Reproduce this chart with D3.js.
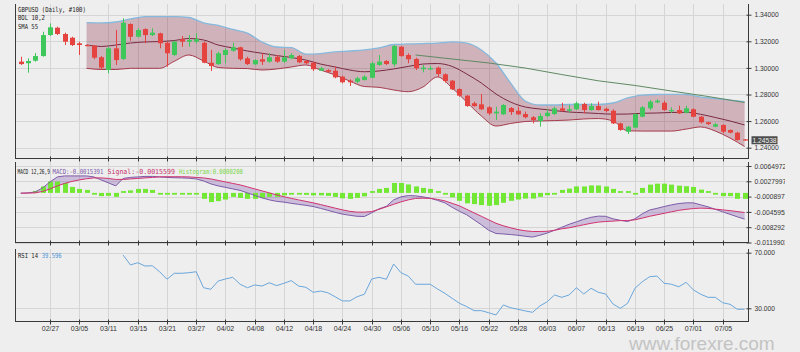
<!DOCTYPE html>
<html>
<head>
<meta charset="utf-8">
<script src="https://cdn.jsdelivr.net/npm/d3@7"></script>
<style>
  body { margin: 0; background: #eeeeee; }
  svg { display: block; }
</style>
</head>
<body>
<svg id="chart" width="800" height="352"></svg>
<script>
// GBPUSD daily, 100 bars, BOL(10,2) + SMA55, MACD(12,26,9), RSI(14)

const tickLabels = ["02/27", "03/05", "03/11", "03/15", "03/21", "03/27", "04/02", "04/08",
  "04/12", "04/18", "04/24", "04/30", "05/06", "05/10", "05/16", "05/22", "05/28", "06/03",
  "06/07", "06/13", "06/19", "06/25", "07/01", "07/05"];

const open = [
  1.3047, 1.3035, 1.3054, 1.3089, 1.3247, 1.3302, 1.3255, 1.3227, 1.3185, 1.3172,
  1.3167, 1.3080, 1.2984, 1.3147, 1.3067, 1.3330, 1.3234, 1.3292, 1.3247, 1.3260,
  1.3189, 1.3097, 1.3215, 1.3197, 1.3197, 1.3189, 1.3039, 1.3029, 1.3097, 1.3129,
  1.3155, 1.3072, 1.3027, 1.3065, 1.3047, 1.3084, 1.3047, 1.3072, 1.3089, 1.3052,
  1.3039, 1.2979, 1.2984, 1.2979, 1.2934, 1.2904, 1.2896, 1.2909, 1.2926, 1.3022,
  1.3052, 1.3027, 1.3159, 1.3097, 1.3067, 1.2990, 1.2990, 1.3002, 1.2952, 1.2904,
  1.2841, 1.2791, 1.2734, 1.2726, 1.2704, 1.2658, 1.2651, 1.2698, 1.2678, 1.2653,
  1.2629, 1.2601, 1.2638, 1.2653, 1.2696, 1.2678, 1.2689, 1.2728, 1.2683, 1.2713,
  1.2693, 1.2678, 1.2583, 1.2520, 1.2551, 1.2633, 1.2696, 1.2741, 1.2738, 1.2676,
  1.2683, 1.2663, 1.2689, 1.2633, 1.2591, 1.2558, 1.2571, 1.2533, 1.2513, 1.2463];
const high = [
  1.3084, 1.3072, 1.3112, 1.3272, 1.3335, 1.3310, 1.3265, 1.3234, 1.3197, 1.3176,
  1.3172, 1.3089, 1.3159, 1.3285, 1.3373, 1.3335, 1.3298, 1.3298, 1.3298, 1.3265,
  1.3197, 1.3204, 1.3240, 1.3247, 1.3260, 1.3197, 1.3135, 1.3122, 1.3147, 1.3189,
  1.3159, 1.3084, 1.3065, 1.3110, 1.3110, 1.3097, 1.3135, 1.3110, 1.3097, 1.3059,
  1.3047, 1.3009, 1.2990, 1.3009, 1.2941, 1.2914, 1.2934, 1.2947, 1.3047, 1.3097,
  1.3059, 1.3172, 1.3165, 1.3110, 1.3077, 1.3022, 1.3016, 1.3009, 1.2959, 1.2909,
  1.2847, 1.2796, 1.2746, 1.2804, 1.2713, 1.2708, 1.2728, 1.2706, 1.2708, 1.2671,
  1.2638, 1.2658, 1.2689, 1.2708, 1.2738, 1.2721, 1.2746, 1.2738, 1.2734, 1.2746,
  1.2701, 1.2689, 1.2588, 1.2563, 1.2658, 1.2713, 1.2758, 1.2764, 1.2753, 1.2704,
  1.2716, 1.2716, 1.2696, 1.2638, 1.2595, 1.2588, 1.2576, 1.2538, 1.2520, 1.2465];
const low = [
  1.3022, 1.2964, 1.3047, 1.3084, 1.3240, 1.3247, 1.3172, 1.3165, 1.3097, 1.3165,
  1.3065, 1.2984, 1.2959, 1.3022, 1.3059, 1.3204, 1.3230, 1.3185, 1.3240, 1.3147,
  1.3009, 1.3089, 1.3159, 1.3159, 1.3185, 1.3035, 1.2977, 1.3022, 1.3035, 1.3122,
  1.3054, 1.3022, 1.3022, 1.3022, 1.3039, 1.3039, 1.3039, 1.3065, 1.3035, 1.3029,
  1.2977, 1.2977, 1.2967, 1.2922, 1.2884, 1.2864, 1.2884, 1.2904, 1.2922, 1.3016,
  1.3022, 1.3009, 1.3084, 1.3035, 1.2984, 1.2967, 1.2984, 1.2934, 1.2889, 1.2834,
  1.2783, 1.2708, 1.2708, 1.2683, 1.2646, 1.2608, 1.2646, 1.2646, 1.2646, 1.2621,
  1.2583, 1.2558, 1.2629, 1.2646, 1.2671, 1.2663, 1.2683, 1.2658, 1.2678, 1.2678,
  1.2666, 1.2578, 1.2528, 1.2503, 1.2546, 1.2629, 1.2683, 1.2734, 1.2678, 1.2663,
  1.2653, 1.2658, 1.2629, 1.2583, 1.2571, 1.2554, 1.2508, 1.2508, 1.2452, 1.2452];
const close = [
  1.3029, 1.3052, 1.3089, 1.3247, 1.3305, 1.3255, 1.3197, 1.3172, 1.3172, 1.3170,
  1.3077, 1.3002, 1.3147, 1.3059, 1.3340, 1.3234, 1.3285, 1.3247, 1.3265, 1.3185,
  1.3110, 1.3197, 1.3197, 1.3210, 1.3217, 1.3039, 1.3014, 1.3110, 1.3135, 1.3155,
  1.3065, 1.3029, 1.3059, 1.3047, 1.3080, 1.3047, 1.3080, 1.3097, 1.3042, 1.3035,
  1.2990, 1.2997, 1.2971, 1.2929, 1.2892, 1.2892, 1.2922, 1.2934, 1.3035, 1.3047,
  1.3029, 1.3165, 1.3089, 1.3065, 1.2997, 1.3002, 1.2997, 1.2954, 1.2901, 1.2839,
  1.2791, 1.2713, 1.2713, 1.2689, 1.2658, 1.2671, 1.2721, 1.2668, 1.2651, 1.2629,
  1.2608, 1.2638, 1.2663, 1.2696, 1.2678, 1.2689, 1.2734, 1.2683, 1.2713, 1.2683,
  1.2676, 1.2583, 1.2533, 1.2558, 1.2653, 1.2704, 1.2746, 1.2753, 1.2683, 1.2683,
  1.2658, 1.2696, 1.2633, 1.2591, 1.2578, 1.2576, 1.2520, 1.2513, 1.2458, 1.2454];

// Bollinger band, read every second bar from bar 9
const bbIdx = d3.range(9, 100, 2);
const bbUpper = [1.3340, 1.3338, 1.3345, 1.3368, 1.3385, 1.3386, 1.3386, 1.3379, 1.3338, 1.3319,
  1.3289, 1.3262, 1.3195, 1.3157, 1.3153, 1.3104, 1.3108, 1.3120, 1.3127, 1.3135,
  1.3150, 1.3176, 1.3180, 1.3183, 1.3187, 1.3195, 1.3187, 1.3135, 1.3037, 1.2886,
  1.2751, 1.2721, 1.2721, 1.2725, 1.2725, 1.2725, 1.2736, 1.2774, 1.2796, 1.2800,
  1.2801, 1.2800, 1.2781, 1.2770, 1.2758, 1.2746];
const bbMid = [1.3172, 1.3161, 1.3172, 1.3187, 1.3195, 1.3198, 1.3206, 1.3221, 1.3210, 1.3172,
  1.3150, 1.3127, 1.3110, 1.3093, 1.3078, 1.3059, 1.3029, 1.3007, 1.2984, 1.2971,
  1.2977, 1.2992, 1.3011, 1.3029, 1.3033, 1.3011, 1.2954, 1.2886, 1.2804, 1.2743,
  1.2706, 1.2691, 1.2679, 1.2668, 1.2663, 1.2657, 1.2652, 1.2653, 1.2659, 1.2661,
  1.2665, 1.2666, 1.2651, 1.2627, 1.2601, 1.2571];
const bbLower = [1.2997, 1.2988, 1.2988, 1.2997, 1.2997, 1.2997, 1.3050, 1.3097, 1.3052, 1.3003,
  1.2997, 1.2995, 1.2984, 1.2992, 1.3007, 1.3022, 1.2984, 1.2947, 1.2901, 1.2860,
  1.2854, 1.2834, 1.2821, 1.2856, 1.2932, 1.2849, 1.2743, 1.2638, 1.2563, 1.2582,
  1.2597, 1.2601, 1.2604, 1.2608, 1.2616, 1.2619, 1.2601, 1.2527, 1.2525, 1.2525,
  1.2525, 1.2540, 1.2556, 1.2525, 1.2473, 1.2409];

const smaIdx = [54, 59, 64, 69, 74, 79, 84, 89, 94, 99];
const smaVal = [1.3097, 1.3067, 1.3037, 1.2999, 1.2950, 1.2903, 1.2868, 1.2826, 1.2785, 1.2740];

const macdLine = [
  -0.00007, 0, 0.00024, 0.00121, 0.00265, 0.00386, 0.0041, 0.0041, 0.0041, 0.0041,
  0.00386, 0.00313, 0.00241, 0.00169, 0.00349, 0.00374, 0.00386, 0.00398, 0.00398, 0.00386,
  0.00374, 0.00366, 0.00362, 0.00354, 0.00337, 0.00289, 0.00217, 0.00169, 0.00133, 0.00096,
  0.0006, 0, -0.0006, -0.00121, -0.00169, -0.00205, -0.00224, -0.00253, -0.00277, -0.00301,
  -0.0033, -0.00374, -0.00422, -0.0047, -0.00513, -0.00542, -0.00566, -0.00571, -0.00482, -0.00386,
  -0.00325, -0.00169, -0.00096, -0.00065, -0.00072, -0.00096, -0.00128, -0.00181, -0.00241, -0.00349,
  -0.00446, -0.0053, -0.00651, -0.00771, -0.00904, -0.00981, -0.00993, -0.01007, -0.01024, -0.01048,
  -0.01068, -0.01024, -0.00971, -0.00904, -0.00831, -0.00759, -0.00699, -0.00639, -0.0059, -0.00562,
  -0.00566, -0.00627, -0.00663, -0.00692, -0.00627, -0.00506, -0.00415, -0.00374, -0.0033, -0.00289,
  -0.00258, -0.00241, -0.00241, -0.00289, -0.00337, -0.00398, -0.00458, -0.00518, -0.00578, -0.00634];
const signalLine = [
  -0.00007, -0.00005, 0, 0.00036, 0.00096, 0.00169, 0.00229, 0.00277, 0.00313, 0.00342,
  0.00362, 0.00362, 0.00349, 0.00325, 0.00325, 0.00337, 0.00349, 0.00362, 0.00374, 0.00386,
  0.0039, 0.0039, 0.0039, 0.00386, 0.00374, 0.00362, 0.00337, 0.00301, 0.00265, 0.00229,
  0.00193, 0.00145, 0.00096, 0.00048, 0, -0.00048, -0.00092, -0.00133, -0.00169, -0.00205,
  -0.00241, -0.00282, -0.00325, -0.00369, -0.0041, -0.00446, -0.00465, -0.00465, -0.00451, -0.00398,
  -0.00337, -0.00277, -0.00217, -0.00169, -0.00133, -0.00128, -0.00133, -0.00157, -0.00193, -0.00253,
  -0.00313, -0.00398, -0.00482, -0.00566, -0.00651, -0.00735, -0.00795, -0.00844, -0.00887, -0.00916,
  -0.00933, -0.00933, -0.00928, -0.00904, -0.00868, -0.00844, -0.00807, -0.00771, -0.00735, -0.00706,
  -0.00692, -0.00682, -0.0067, -0.00668, -0.00651, -0.0061, -0.00566, -0.0053, -0.00494, -0.00458,
  -0.00422, -0.00398, -0.00378, -0.00369, -0.00374, -0.00393, -0.0041, -0.00429, -0.00451, -0.00475];
const histogram = [
  null, null, 0.00048, 0.00156, 0.00276, 0.00276, 0.0024, 0.00144, 0.00096, 0.00072,
  -0.00012, -0.00079, -0.00072, -0.00096, 0.00024, 0.0006, 0.00096, 0.00096, 0.00072, -0.00012,
  -0.00036, -0.00036, -0.00036, -0.00036, -0.00024, -0.00144, -0.00223, -0.00199, -0.00161, -0.00096,
  -0.0012, -0.00144, -0.00144, -0.0012, -0.00096, -0.00096, -0.0006, -0.00024, -0.00036, -0.00048,
  -0.0006, -0.0006, -0.00072, -0.00096, -0.00132, -0.00144, -0.0012, -0.00084, 0.00012, 0.00096,
  0.0012, 0.0024, 0.0024, 0.00204, 0.00156, 0.0012, 0.00096, 0.00024, -0.00024, -0.00108,
  -0.00192, -0.00252, -0.00271, -0.00295, -0.00312, -0.00295, -0.0024, -0.00192, -0.00161, -0.00137,
  -0.00137, -0.00096, -0.00055, -0.00012, 0.00072, 0.00103, 0.00156, 0.00156, 0.0018, 0.0018,
  0.00156, 0.00096, 0.00012, 0.00007, -0.00007, 0.0012, 0.002, 0.00223, 0.00223, 0.002,
  0.00175, 0.00161, 0.00144, 0.00079, 0.00007, -0.00007, -0.00079, -0.00079, -0.00144, -0.00144];

// RSI 14 starts at bar 14
const rsiStart = 14;
const rsi = [68.3, 61.2, 62.8, 60.4, 60.6, 56.3, 50.9, 55.2, 55.2, 55.6,
  56.3, 44.8, 43.7, 49.6, 51.1, 52.3, 47.3, 44.8, 46.8, 46.0,
  48.4, 46.3, 48.0, 49.9, 46.0, 45.1, 41.5, 42.4, 41.2, 38.3,
  35.3, 35.3, 38.3, 40.1, 51.1, 52.3, 50.9, 61.9, 55.6, 53.2,
  47.3, 47.3, 47.3, 43.9, 40.8, 37.2, 33.6, 31.2, 28.3, 28.3,
  26.8, 25.2, 32.4, 30.4, 29.3, 28.1, 27.1, 31.7, 34.7, 39.6,
  37.9, 39.6, 44.8, 40.3, 44.4, 41.5, 40.3, 33.1, 30.0, 33.6,
  44.4, 49.1, 52.7, 53.2, 48.0, 47.3, 45.5, 48.7, 43.2, 40.1,
  37.9, 37.9, 34.0, 32.9, 29.3, 29.3];

const priceTicks = [1.34, 1.32, 1.30, 1.28, 1.26, 1.24];
const macdTicks = [0.0064972, 0.0027997, -0.0008978, -0.0045953, -0.0082928, -0.0119903];
const macdTickText = ["0.0064972", "0.0027997", "-0.0008977", "-0.0045952", "-0.0082927", "-0.0119903"];
const rsiTicks = [70, 30];
const lastPrice = 1.24538;

// ---------------------------------------------------------------
const svg = d3.select("#chart");
const left = 15, right = 748;
const gridColor = "#d5d5d5", axisColor = "#3a3a3a";
const panels = {
  price: {top: 4, bottom: 158},
  macd: {top: 162, bottom: 242},
  rsi: {top: 249, bottom: 321}
};
const tickIndex = tickLabels.map((d, i) => 4 + i * 4);

const x = d3.scaleLinear().domain([0, 99]).range([20.75, 744.6]);
const yPrice = d3.scaleLinear().domain([1.24, 1.34]).range([147.7, 14.7]);
const yMacd = d3.scaleLinear().domain([-0.0119903, 0.0064972]).range([242.5, 166]);
const yRsi = d3.scaleLinear().domain([30, 70]).range([308.3, 252.7]);

svg.append("rect").attr("width", 800).attr("height", 352).attr("fill", "#eeeeee");
// labels of the original stop at about x=785
svg.append("defs").append("clipPath").attr("id", "labelClip")
  .append("rect").attr("x", 0).attr("y", 0).attr("width", 785).attr("height", 352);

const px = v => Math.round(v) + 0.5;

function drawFrame(p, yScale, ticks, fmt, showDates) {
  const g = svg.append("g");
  // vertical grid
  g.selectAll(null).data(tickIndex).join("line")
    .attr("x1", d => px(x(d))).attr("x2", d => px(x(d)))
    .attr("y1", p.top).attr("y2", p.bottom)
    .attr("stroke", gridColor);
  // horizontal grid
  g.selectAll(null).data(ticks).join("line")
    .attr("x1", left).attr("x2", right)
    .attr("y1", d => px(yScale(d))).attr("y2", d => px(yScale(d)))
    .attr("stroke", gridColor);
  // frame lines
  g.append("line").attr("x1", left + 0.5).attr("x2", left + 0.5)
    .attr("y1", p.top).attr("y2", p.bottom + 0.5).attr("stroke", axisColor);
  g.append("line").attr("x1", right + 0.5).attr("x2", right + 0.5)
    .attr("y1", p.top).attr("y2", p.bottom + 0.5).attr("stroke", axisColor);
  g.append("line").attr("x1", left).attr("x2", right + 1)
    .attr("y1", p.bottom + 0.5).attr("y2", p.bottom + 0.5).attr("stroke", axisColor);

  // right value axis, inside an untransformed clipped group
  const ra = g.append("g").attr("clip-path", "url(#labelClip)")
    .append("g")
    .attr("transform", `translate(${right + 0.5},0)`)
    .call(d3.axisRight(yScale).tickValues(ticks).tickFormat(fmt)
      .tickSize(3).tickSizeOuter(0).tickPadding(3));
  ra.attr("font-family", "Liberation Sans, Arial, sans-serif").attr("font-size", 6.7);
  ra.select(".domain").remove();
  ra.selectAll(".tick line").attr("x1", -2).attr("stroke", axisColor);
  ra.selectAll(".tick text").attr("fill", "#333");

  // bottom date axis
  const ba = g.append("g")
    .attr("transform", `translate(0,${p.bottom + 0.5})`)
    .call(d3.axisBottom(x).tickValues(tickIndex)
      .tickFormat((d, i) => showDates ? tickLabels[i] : "")
      .tickSize(3).tickSizeOuter(0).tickPadding(1.5));
  ba.attr("font-family", "Liberation Sans, Arial, sans-serif").attr("font-size", 7);
  ba.select(".domain").remove();
  ba.selectAll(".tick").attr("transform", d => `translate(${px(x(d))},0)`);
  ba.selectAll(".tick line").attr("y1", -2).attr("stroke", axisColor);
  ba.selectAll(".tick text").attr("fill", "#333");
  return g;
}

drawFrame(panels.price, yPrice, priceTicks, d3.format(".5f"), false);
drawFrame(panels.macd, yMacd, macdTicks, (d, i) => macdTickText[i], false);
drawFrame(panels.rsi, yRsi, rsiTicks, d3.format(".3f"), true);

// ------------------- price panel -------------------
const pg = svg.append("g");

const bandArea = d3.area()
  .x((d, k) => x(bbIdx[k]))
  .y0((d, k) => yPrice(bbLower[k]))
  .y1((d, k) => yPrice(bbUpper[k]))
  .curve(d3.curveMonotoneX);
pg.append("path").datum(bbIdx).attr("d", bandArea)
  .attr("fill", "rgba(140,40,70,0.3)");

const bandLine = arr => d3.line()
  .x((d, k) => x(bbIdx[k]))
  .y((d, k) => yPrice(arr[k]))
  .curve(d3.curveMonotoneX)(bbIdx);
pg.append("path").attr("d", bandLine(bbUpper)).attr("fill", "none")
  .attr("stroke", "#86b9dc").attr("stroke-width", 1.3);
pg.append("path").attr("d", bandLine(bbLower)).attr("fill", "none")
  .attr("stroke", "#a63a4c").attr("stroke-width", 1);
pg.append("path").attr("d", bandLine(bbMid)).attr("fill", "none")
  .attr("stroke", "#7a2a42").attr("stroke-width", 1);

pg.append("path")
  .attr("d", d3.line().x((d, k) => x(smaIdx[k])).y((d, k) => yPrice(smaVal[k]))(smaIdx))
  .attr("fill", "none").attr("stroke", "#5f8a63").attr("stroke-width", 1);

const candles = open.map((o, i) => ({i, o, h: high[i], l: low[i], c: close[i]}));
const upColor = "#3fc75c", downColor = "#e5433f";
pg.selectAll(null).data(candles).join("line")
  .attr("x1", d => px(x(d.i))).attr("x2", d => px(x(d.i)))
  .attr("y1", d => yPrice(d.h)).attr("y2", d => yPrice(d.l))
  .attr("stroke", d => d.c >= d.o ? upColor : downColor);
pg.selectAll(null).data(candles).join("rect")
  .attr("x", d => Math.round(x(d.i)) - 2).attr("width", 5)
  .attr("y", d => yPrice(Math.max(d.o, d.c)))
  .attr("height", d => Math.max(1.2, Math.abs(yPrice(d.o) - yPrice(d.c))))
  .attr("fill", d => d.c >= d.o ? upColor : downColor);

// last price tag
pg.append("rect").attr("x", 751.5).attr("y", yPrice(lastPrice) - 4.3)
  .attr("width", 26).attr("height", 8).attr("fill", "#4d4d4d");
pg.append("text").attr("x", 764.5).attr("y", yPrice(lastPrice) + 2.3)
  .attr("text-anchor", "middle").attr("font-size", 6.7)
  .attr("font-family", "Liberation Sans, Arial, sans-serif").attr("fill", "#f4f4f4")
  .text(d3.format(".5f")(lastPrice));

// ------------------- MACD panel -------------------
const mg = svg.append("g");
const idx100 = d3.range(100);
mg.append("path").datum(idx100)
  .attr("d", d3.area().x(i => x(i)).y0(i => yMacd(signalLine[i])).y1(i => yMacd(macdLine[i])))
  .attr("fill", "rgba(120,70,170,0.28)");

const histColor = "#72e834";
const barH = i => Math.max(1.8, Math.abs(yMacd(histogram[i]) - yMacd(0)));
mg.selectAll(null).data(idx100.filter(i => histogram[i] !== null)).join("rect")
  .attr("x", i => Math.round(x(i)) - 2).attr("width", 5)
  .attr("y", i => histogram[i] >= 0 ? yMacd(0) - barH(i) : yMacd(0))
  .attr("height", barH)
  .attr("fill", histColor);

mg.append("path").datum(idx100)
  .attr("d", d3.line().x(i => x(i)).y(i => yMacd(macdLine[i])))
  .attr("fill", "none").attr("stroke", "#7d5ca8").attr("stroke-width", 1);
mg.append("path").datum(idx100)
  .attr("d", d3.line().x(i => x(i)).y(i => yMacd(signalLine[i])))
  .attr("fill", "none").attr("stroke", "#d1336f").attr("stroke-width", 1);

// ------------------- RSI panel -------------------
const rg = svg.append("g");
rg.append("path").datum(rsi)
  .attr("d", d3.line().x((d, k) => x(rsiStart + k)).y(d => yRsi(d)))
  .attr("fill", "none").attr("stroke", "#6aa6dc").attr("stroke-width", 1);

// ------------------- labels -------------------
// the original uses a very narrow font: squeeze each label horizontally
const labelFont = "DejaVu Sans Mono, monospace";
function label(txt, xPos, yPos, len, color) {
  const t = svg.append("text").attr("x", 0).attr("y", 0)
    .attr("font-family", labelFont).attr("font-size", 7)
    .attr("fill", color).text(txt);
  const k = len / t.node().getComputedTextLength();
  t.attr("transform", `translate(${xPos},${yPos}) scale(${k},1)`);
}
label("GBPUSD (Daily, #100)", 18, 11.5, 68, "#222");
label("BOL 10,2", 18, 20, 27, "#222");
label("SMA 55", 18, 28.5, 20, "#222");

label("MACD 12,26,9", 17.5, 174.2, 32.5, "#222");
label("MACD:-0.0015391", 52.5, 174.2, 51, "#7d5ca8");
label("Signal:-0.0015599", 107.5, 174.2, 67.5, "#c8336c");
label("Histogram:0.0000208", 179, 174.2, 64, "#7ad646");

label("RSI 14", 18, 257.5, 20, "#222");
label("39.596", 41.7, 257.5, 20, "#4d94d6");

// watermark, kept just below the date labels
svg.append("text").attr("x", 629).attr("y", 349.5)
  .attr("font-family", "Liberation Sans, Arial, sans-serif").attr("font-size", 19)
  .attr("fill", "#c3c3c3").text("www.forexre.com");
</script>
</body>
</html>
